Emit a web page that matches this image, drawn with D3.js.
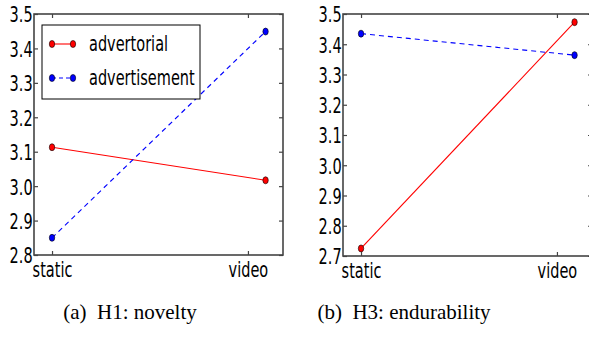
<!DOCTYPE html>
<html>
<head>
<meta charset="utf-8">
<script src="https://cdn.jsdelivr.net/npm/d3@7"></script>
<style>
body { margin: 0; background: #fff; }
svg { display: block; }
</style>
</head>
<body>
<div id="chart"></div>
<script>
// x categories: ticks sit at 0 / 1, the points for "video" are drawn a bit to the right
const conditions = ["static", "video"];
const tickPos = [0, 1];
const pointPos = [0, 1.09];
const seriesNames = ["advertorial", "advertisement"];

// (a) H1: novelty
const noveltyAdvertorial = [3.113, 3.017];
const noveltyAdvertisement = [2.850, 3.449];
const noveltyTicks = [2.8, 2.9, 3.0, 3.1, 3.2, 3.3, 3.4, 3.5];

// (b) H3: endurability
const endurAdvertorial = [2.725, 3.473];
const endurAdvertisement = [3.435, 3.364];
const endurTicks = [2.7, 2.8, 2.9, 3.0, 3.1, 3.2, 3.3, 3.4, 3.5];

const captions = ["(a)\u00a0\u00a0H1: novelty", "(b)\u00a0\u00a0H3: endurability"];

const W = 589, H = 340;
const SX = 0.66; // glyphs in the picture are squeezed horizontally
const fontSz = 22;

const svg = d3.select("#chart").append("svg")
	.attr("width", W)
	.attr("height", H)

const colors = ["#ff0000", "#0000ff"];
const dashes = [null, "5,4"];

function drawPanel(p) {
	const x = d3.scaleLinear().domain([-0.092, 1.179]).range([p.left, p.left + 249]);
	const y = d3.scaleLinear().domain([p.ticks[0], p.ticks[p.ticks.length - 1]]).range([p.bottom, p.top]);

	const g = svg.append("g");

	// series lines
	p.series.forEach(function(vals, i) {
		const pts = vals.map((v, j) => [pointPos[j], v]);
		g.append("path")
			.datum(pts)
			.attr("d", d3.line().x(d => x(d[0])).y(d => y(d[1])))
			.style("fill", "none")
			.style("stroke", colors[i])
			.style("stroke-width", 1.1)
			.style("stroke-dasharray", dashes[i]);
		g.selectAll(".m" + i)
			.data(pts)
			.join("ellipse")
			.attr("cx", d => x(d[0]))
			.attr("cy", d => y(d[1]))
			.attr("rx", 2.7)
			.attr("ry", 3.5)
			.style("fill", colors[i])
			.style("stroke", "#000")
			.style("stroke-width", 0.6);
	});

	// axes (ticks pointing inward)
	const ax = [
		{ gen: d3.axisLeft(y).tickValues(p.ticks).tickFormat(d3.format(".1f")), t: `translate(${p.left},0)` },
		{ gen: d3.axisRight(y).tickValues(p.ticks).tickFormat(""), t: `translate(${x.range()[1]},0)` },
		{ gen: d3.axisBottom(x).tickValues(tickPos).tickFormat((d, i) => conditions[i]), t: `translate(0,${p.bottom})` },
		{ gen: d3.axisTop(x).tickValues(tickPos).tickFormat(""), t: `translate(0,${p.top})` }
	];
	ax.forEach(function(a, k) {
		const ag = g.append("g")
			.attr("transform", a.t)
			.call(a.gen.tickSize(-4).tickSizeOuter(0).tickPadding(k == 0 ? 2 : 6.4));
		ag.select(".domain").remove();
		ag.selectAll(".tick line").style("stroke", "#444").style("stroke-width", 1.2);
		ag.selectAll(".tick text")
			.style("font-family", "DejaVu Sans")
			.style("font-size", fontSz + "px")
			.style("fill", "#000")
			.attr("transform", `scale(${SX},1)`);
		if (k == 0) ag.selectAll(".tick text").attr("dy", "0.36em");
	});

	// frame
	g.append("rect")
		.attr("x", p.left)
		.attr("y", p.top)
		.attr("width", x.range()[1] - p.left)
		.attr("height", p.bottom - p.top)
		.style("fill", "none")
		.style("stroke", "#444")
		.style("stroke-width", 1.6);

	// legend
	if (p.legend) {
		g.append("rect")
			.attr("x", 42)
			.attr("y", 25)
			.attr("width", 158)
			.attr("height", 74)
			.style("fill", "#fff")
			.style("stroke", "#000")
			.style("stroke-width", 1);
		seriesNames.forEach(function(name, i) {
			const ly = 44 + i * 34;
			g.append("line")
				.attr("x1", 52).attr("x2", 73)
				.attr("y1", ly).attr("y2", ly)
				.style("stroke", colors[i])
				.style("stroke-width", 1.1)
				.style("stroke-dasharray", dashes[i] ? "4,3" : null);
			[52, 73].forEach(function(mx) {
				g.append("ellipse")
					.attr("cx", mx).attr("cy", ly)
					.attr("rx", 2.7).attr("ry", 3.5)
					.style("fill", colors[i])
					.style("stroke", "#000")
					.style("stroke-width", 0.6);
			});
			g.append("text")
				.attr("transform", `translate(89,${ly}) scale(${SX},1)`)
				.attr("dy", "0.33em")
				.style("font-family", "DejaVu Sans")
				.style("font-size", fontSz + "px")
				.text(name);
		});
	}

	// caption
	svg.append("text")
		.attr("x", p.capX)
		.attr("y", 319)
		.attr("text-anchor", "middle")
		.style("font-family", "Liberation Serif")
		.style("font-size", "21px")
		.text(p.caption);
}

drawPanel({ left: 34, top: 14, bottom: 255, ticks: noveltyTicks,
	series: [noveltyAdvertorial, noveltyAdvertisement], legend: true, capX: 130, caption: captions[0] });
drawPanel({ left: 343, top: 14, bottom: 256, ticks: endurTicks,
	series: [endurAdvertorial, endurAdvertisement], legend: false, capX: 404, caption: captions[1] });
</script>
</body>
</html>
